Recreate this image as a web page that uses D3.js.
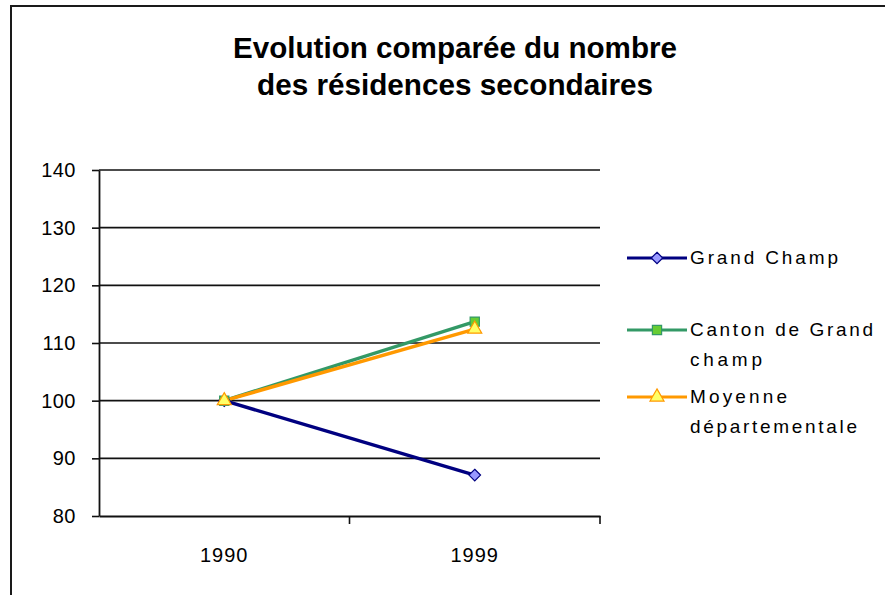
<!DOCTYPE html>
<html>
<head>
<meta charset="utf-8">
<script src="https://cdn.jsdelivr.net/npm/d3@7"></script>
<style>
  html, body { margin: 0; padding: 0; background: #fff; }
  svg { display: block; }
  text { font-family: "Liberation Sans", Arial, sans-serif; fill: #000; }
</style>
</head>
<body>
<svg id="chart" width="885" height="595"></svg>
<script>
// Data
const years = ["1990", "1999"];
const grandChamp = [100, 87.1];
const cantonGrandChamp = [100, 113.7];
const moyenneDep = [100, 112.4];
const yTicks = [80, 90, 100, 110, 120, 130, 140];
const titleLines = ["Evolution comparée du nombre", "des résidences secondaires"];
const seriesNames = [["Grand Champ"], ["Canton de Grand", "champ"], ["Moyenne", "départementale"]];

const series = [
  { name: seriesNames[0], values: grandChamp, line: "#000080", fill: "#9999ff", stroke: "#000080", symbol: d3.symbolDiamond2 },
  { name: seriesNames[1], values: cantonGrandChamp, line: "#339966", fill: "#66cc33", stroke: "#339966", symbol: d3.symbolSquare },
  { name: seriesNames[2], values: moyenneDep, line: "#ff9900", fill: "#ffff66", stroke: "#ff9900", symbol: d3.symbolTriangle }
];

const svg = d3.select("#chart");

// Outer chart frame
svg.append("rect")
  .attr("x", 11).attr("y", 6).attr("width", 890).attr("height", 600)
  .attr("fill", "#fff").attr("stroke", "#1a1a1a").attr("stroke-width", 2);

// Title, two centred lines
const titleLayout = [{ y: 58, w: 444 }, { y: 95, w: 396 }];
titleLines.forEach((t, i) => {
  svg.append("text")
    .attr("x", 455).attr("y", titleLayout[i].y)
    .attr("text-anchor", "middle")
    .attr("font-size", 29).attr("font-weight", "bold")
    .attr("textLength", titleLayout[i].w)
    .attr("lengthAdjust", "spacingAndGlyphs")
    .text(t);
});

// Scales
const plot = { left: 99, right: 600, top: 170, bottom: 516 };
const x = d3.scaleBand().domain(years).range([plot.left, plot.right]);
const y = d3.scaleLinear().domain([80, 140]).range([plot.bottom, plot.top]);

// Horizontal gridlines
svg.append("g")
  .selectAll("line")
  .data(yTicks.slice(1))
  .join("line")
  .attr("x1", plot.left).attr("x2", plot.right)
  .attr("y1", d => y(d)).attr("y2", d => y(d))
  .attr("stroke", "#111").attr("stroke-width", 1.6);

// Y axis
const yAxis = svg.append("g")
  .attr("transform", `translate(${plot.left},0)`)
  .call(d3.axisLeft(y).tickValues(yTicks).tickSize(7).tickPadding(16).tickSizeOuter(0));
yAxis.select(".domain").attr("stroke", "#111").attr("stroke-width", 1.8);
yAxis.selectAll(".tick line").attr("stroke", "#111").attr("stroke-width", 1.6);
yAxis.selectAll(".tick text")
  .attr("font-size", 20)
  .attr("font-family", "Liberation Sans, Arial, sans-serif")
  .attr("letter-spacing", 0.5)
  .attr("fill", "#000");

// X axis
const xAxis = svg.append("g")
  .attr("transform", `translate(0,${plot.bottom})`)
  .call(d3.axisBottom(x).tickSize(0).tickPadding(32));
xAxis.select(".domain").attr("stroke", "#111").attr("stroke-width", 1.8);
xAxis.selectAll(".tick text")
  .attr("font-size", 20)
  .attr("font-family", "Liberation Sans, Arial, sans-serif")
  .attr("letter-spacing", 1)
  .attr("fill", "#000");
// category separators
xAxis.append("g").selectAll("line")
  .data(years)
  .join("line")
  .attr("x1", d => x(d) + x.bandwidth()).attr("x2", d => x(d) + x.bandwidth())
  .attr("y1", 0).attr("y2", 8)
  .attr("stroke", "#111").attr("stroke-width", 1.6);

// Lines
const lineGen = d3.line()
  .x((d, i) => x(years[i]) + x.bandwidth() / 2)
  .y(d => y(d));

series.forEach(s => {
  svg.append("path")
    .datum(s.values)
    .attr("d", lineGen)
    .attr("fill", "none")
    .attr("stroke", s.line)
    .attr("stroke-width", 3.5);
});

// Markers
series.forEach(s => {
  svg.append("g")
    .selectAll("path")
    .data(s.values)
    .join("path")
    .attr("transform", (d, i) => `translate(${x(years[i]) + x.bandwidth() / 2},${y(d)})`)
    .attr("d", d3.symbol().type(s.symbol).size(85))
    .attr("fill", s.fill)
    .attr("stroke", s.stroke)
    .attr("stroke-width", 1.2);
});

// Legend
const legendRows = [258, 330, 397];
const legendWidths = [[148], [183, 72], [97, 167]];
const legend = svg.append("g");
series.forEach((s, i) => {
  const g = legend.append("g").attr("transform", `translate(0,${legendRows[i]})`);
  g.append("line")
    .attr("x1", 627).attr("x2", 687).attr("y1", 0).attr("y2", 0)
    .attr("stroke", s.line).attr("stroke-width", 3.2);
  g.append("path")
    .attr("transform", "translate(657,0)")
    .attr("d", d3.symbol().type(s.symbol).size(85))
    .attr("fill", s.fill).attr("stroke", s.stroke).attr("stroke-width", 1.2);
  s.name.forEach((t, j) => {
    g.append("text")
      .attr("x", 690).attr("y", 6 + j * 30)
      .attr("font-size", 19)
      .attr("textLength", legendWidths[i][j])
      .attr("lengthAdjust", "spacing")
      .text(t);
  });
});
</script>
</body>
</html>
